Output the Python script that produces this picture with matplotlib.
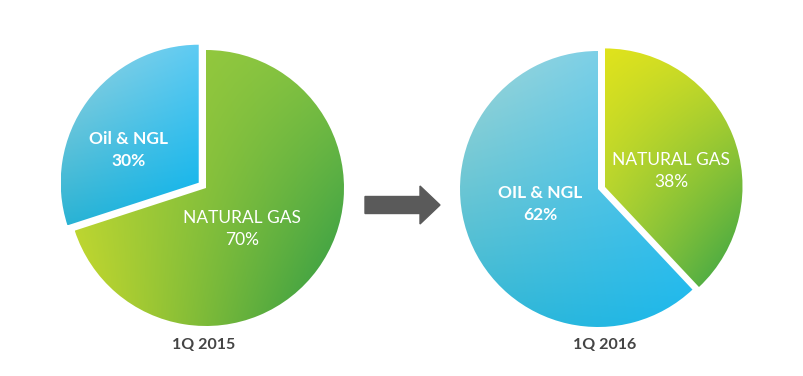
import numpy as np
import matplotlib.pyplot as plt
from matplotlib.colors import to_rgb
from matplotlib.patches import FancyArrow

# data
periods = ['1Q 2015', '1Q 2016']
segments = ['Oil & NGL', 'NATURAL GAS']
shares_2015 = [30, 70]
shares_2016 = [62, 38]
oil_labels = ['Oil & NGL', 'OIL & NGL']

W, H = 804, 376
R = 138


def gradient_fill(ax, wedge, corners):
    # corners: bottom-left, bottom-right, top-left, top-right
    bl, br, tl, tr = [np.array(to_rgb(c)) for c in corners]
    n = 80
    u = np.linspace(0, 1, n)[None, :, None]
    v = np.linspace(0, 1, n)[:, None, None]
    img = (1 - v) * ((1 - u) * bl + u * br) + v * ((1 - u) * tl + u * tr)
    bb = wedge.get_path().get_extents(wedge.get_patch_transform())
    im = ax.imshow(img, extent=(bb.x0, bb.x1, bb.y0, bb.y1), origin='lower',
                   interpolation='bilinear', zorder=1)
    im.set_clip_path(wedge)
    wedge.set_facecolor('none')
    wedge.set_edgecolor('none')


fig = plt.figure(figsize=(W / 100, H / 100), dpi=100)
ax = fig.add_axes([0, 0, 1, 1])

# 1Q 2015: gas clockwise from top, oil pulled out (explode is in data units here)
w1, _ = ax.pie([shares_2015[1], shares_2015[0]], center=(206, 188), radius=R,
               startangle=90, counterclock=False, explode=[0, 9])
gradient_fill(ax, w1[0], ['#c9d92c', '#2a9946', '#a4ce3a', '#7fc142'])
gradient_fill(ax, w1[1], ['#2cb3d3', '#08b2ea', '#9ad3df', '#5ecbf3'])

# 1Q 2016: gas pulled out
w2, _ = ax.pie([shares_2016[1], shares_2016[0]], center=(598, 187), radius=R,
               startangle=90, counterclock=False, explode=[7, 0])
gradient_fill(ax, w2[0], ['#9fcc3a', '#36a346', '#e0e31c', '#c8da2a'])
gradient_fill(ax, w2[1], ['#33b6d2', '#1cb8ec', '#a2d6d6', '#62cbf3'])

ax.set_xlim(0, W)
ax.set_ylim(0, H)
ax.set_aspect('auto')
ax.axis('off')

fam = ['Lato', 'DejaVu Sans']
txt = dict(color='white', ha='center', va='center', fontsize=12.5,
           linespacing=1.45, family=fam, zorder=3)
ax.text(129, 226, f'{oil_labels[0]}\n{shares_2015[0]}%', fontweight='bold', **txt)
ax.text(242, 147, f'{segments[1]}\n{shares_2015[1]}%', fontweight='normal', **txt)
ax.text(540, 172, f'{oil_labels[1]}\n{shares_2016[0]}%', fontweight='bold', **txt)
ax.text(671, 205, f'{segments[1]}\n{shares_2016[1]}%', fontweight='normal', **txt)

for x, p in zip([204, 605], periods):
    ax.text(x, 31, p, ha='center', va='center', fontsize=11.5,
            fontweight='bold', color='#444444', family=fam)

ax.add_patch(FancyArrow(365, 171, 55, 0, width=17, head_width=38,
                        head_length=20, length_includes_head=False,
                        color='#5a5a5a', zorder=2))

fig.savefig('out.png', dpi=100)
